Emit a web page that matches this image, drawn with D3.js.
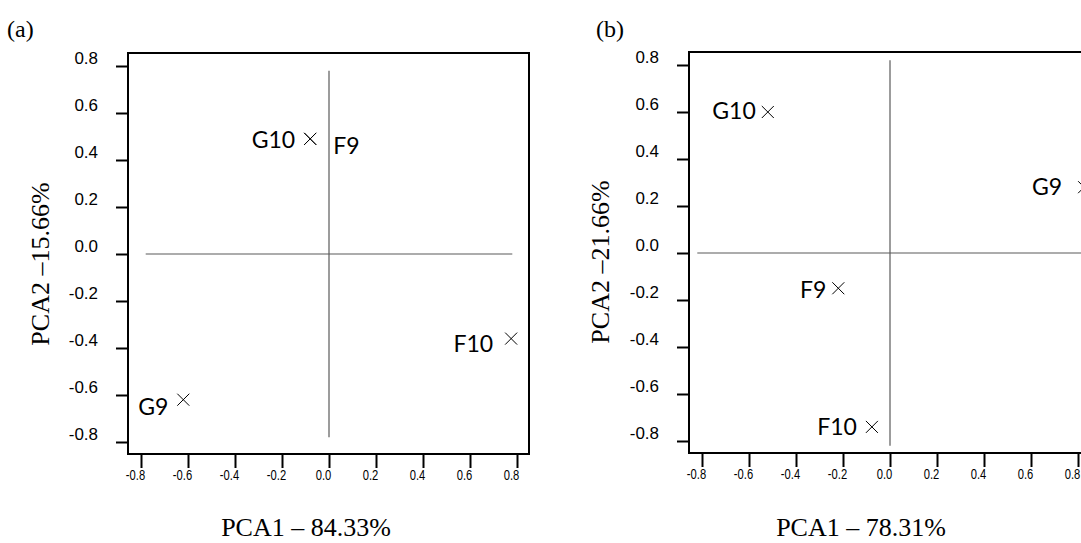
<!DOCTYPE html>
<html><head><meta charset="utf-8">
<script src="https://cdn.jsdelivr.net/npm/d3@7"></script>
<style>body{margin:0;background:#fff}svg{display:block}</style>
</head><body>
<svg id="chart" width="1081" height="543"></svg>
<script>
// ---- data ----
const tickValues = [-0.8, -0.6, -0.4, -0.2, 0.0, 0.2, 0.4, 0.6, 0.8];
const samplesA = ["G10", "F9", "F10", "G9"];
const pca1A = [-0.08, -0.08, 0.775, -0.62];
const pca2A = [0.49, 0.49, -0.36, -0.62];
const samplesB = ["G10", "G9", "F9", "F10"];
const pca1B = [-0.52, 0.826, -0.22, -0.077];
const pca2B = [0.60, 0.28, -0.15, -0.74];
const panelTags = ["(a)", "(b)"];
const xTitles = ["PCA1 – 84.33%", "PCA1 – 78.31%"];
const yTitles = ["PCA2 –15.66%", "PCA2 –21.66%"];

// ---- layout / style (not data) ----
const labelOffsetsA = [[-15, 9, "end"], [23, 15, "start"], [-18, 13, "end"], [-15, 15, "end"]];
const labelOffsetsB = [[-12, 7, "end"], [-22, 8, "end"], [-12, 10, "end"], [-15, 8, "end"]];
const panels = [
  {xr: [141, 517], yr: [442, 66], ref: 0.78, tag: [7, 37], yt: [49, 264], xt: [306, 536],
   names: samplesA, xs: pca1A, ys: pca2A, offs: labelOffsetsA},
  {xr: [702, 1078], yr: [441, 65], ref: 0.82, tag: [596, 37], yt: [609, 262], xt: [861, 536],
   names: samplesB, xs: pca1B, ys: pca2B, offs: labelOffsetsB}
];

const svg = d3.select("#chart");
const fmt = d => (Math.abs(d) < 1e-9 ? 0 : d).toFixed(1);

panels.forEach((p, i) => {
  const x = d3.scaleLinear().domain([-0.8, 0.8]).range(p.xr);
  const y = d3.scaleLinear().domain([-0.8, 0.8]).range(p.yr);
  const g = svg.append("g");
  const fl = Math.round(x(-0.855)), fr = Math.round(x(0.851));
  const ft = Math.round(y(0.855)), fb = Math.round(y(-0.85));

  // reference lines
  g.append("line").attr("x1", x(-p.ref)).attr("x2", x(p.ref)).attr("y1", y(0)).attr("y2", y(0))
    .attr("stroke", "#5a5a5a").attr("stroke-width", 1.2);
  g.append("line").attr("x1", x(0)).attr("x2", x(0)).attr("y1", y(p.ref)).attr("y2", y(-p.ref))
    .attr("stroke", "#5a5a5a").attr("stroke-width", 1.2);

  // frame
  g.append("rect").attr("x", fl).attr("y", ft).attr("width", fr - fl).attr("height", fb - ft)
    .attr("fill", "none").attr("stroke", "#000").attr("stroke-width", 2);

  // y axis
  const ya = g.append("g").attr("transform", `translate(${fl},0)`)
    .call(d3.axisLeft(y).tickValues(tickValues).tickFormat(fmt).tickSize(12).tickPadding(18));
  ya.select(".domain").remove();
  ya.selectAll(".tick line").attr("stroke", "#000").attr("stroke-width", 2);
  ya.selectAll(".tick text").attr("font-family", "Liberation Sans, Arial, sans-serif")
    .attr("font-size", 16).attr("fill", "#000").attr("y", -8)
    .each(function() {
      const w = this.getComputedTextLength();
      d3.select(this).attr("textLength", w * 1.06).attr("lengthAdjust", "spacingAndGlyphs");
    });

  // x axis
  const xa = g.append("g").attr("transform", `translate(0,${fb})`)
    .call(d3.axisBottom(x).tickValues(tickValues).tickFormat(fmt).tickSize(14).tickPadding(0));
  xa.select(".domain").remove();
  xa.selectAll(".tick line").attr("stroke", "#000").attr("stroke-width", 2);
  xa.selectAll(".tick text").attr("font-family", "Liberation Sans, Arial, sans-serif")
    .attr("font-size", 14).attr("fill", "#000").attr("y", 26).attr("dy", 0).attr("x", -6)
    .each(function() {
      const w = this.getComputedTextLength();
      d3.select(this).attr("textLength", w * 0.8).attr("lengthAdjust", "spacingAndGlyphs");
    });

  // points
  const pts = p.names.map((n, k) => ({n, vx: p.xs[k], vy: p.ys[k], o: p.offs[k]}));
  const s = 6;
  g.selectAll("path.pt").data(pts).enter().append("path").attr("class", "pt")
    .attr("d", d => {
      const cx = x(d.vx), cy = y(d.vy);
      return `M${cx - s},${cy - s}L${cx + s},${cy + s}M${cx - s},${cy + s}L${cx + s},${cy - s}`;
    })
    .attr("stroke", "#000").attr("stroke-width", 1).attr("fill", "none");
  g.selectAll("text.lbl").data(pts).enter().append("text").attr("class", "lbl")
    .attr("x", d => x(d.vx) + d.o[0]).attr("y", d => y(d.vy) + d.o[1])
    .attr("text-anchor", d => d.o[2])
    .attr("font-family", "Lato, 'Open Sans', sans-serif").attr("font-size", 23).attr("fill", "#000")
    .text(d => d.n);

  // titles
  svg.append("text").attr("x", p.tag[0]).attr("y", p.tag[1])
    .attr("font-family", "Liberation Serif, 'Times New Roman', serif").attr("font-size", 24)
    .text(panelTags[i]);
  svg.append("text").attr("transform", `translate(${p.yt[0]},${p.yt[1]}) rotate(-90)`)
    .attr("text-anchor", "middle")
    .attr("font-family", "Liberation Serif, 'Times New Roman', serif").attr("font-size", 26)
    .text(yTitles[i]);
  svg.append("text").attr("x", p.xt[0]).attr("y", p.xt[1]).attr("text-anchor", "middle")
    .attr("font-family", "Liberation Serif, 'Times New Roman', serif").attr("font-size", 26)
    .text(xTitles[i]);
});
</script>
</body></html>
